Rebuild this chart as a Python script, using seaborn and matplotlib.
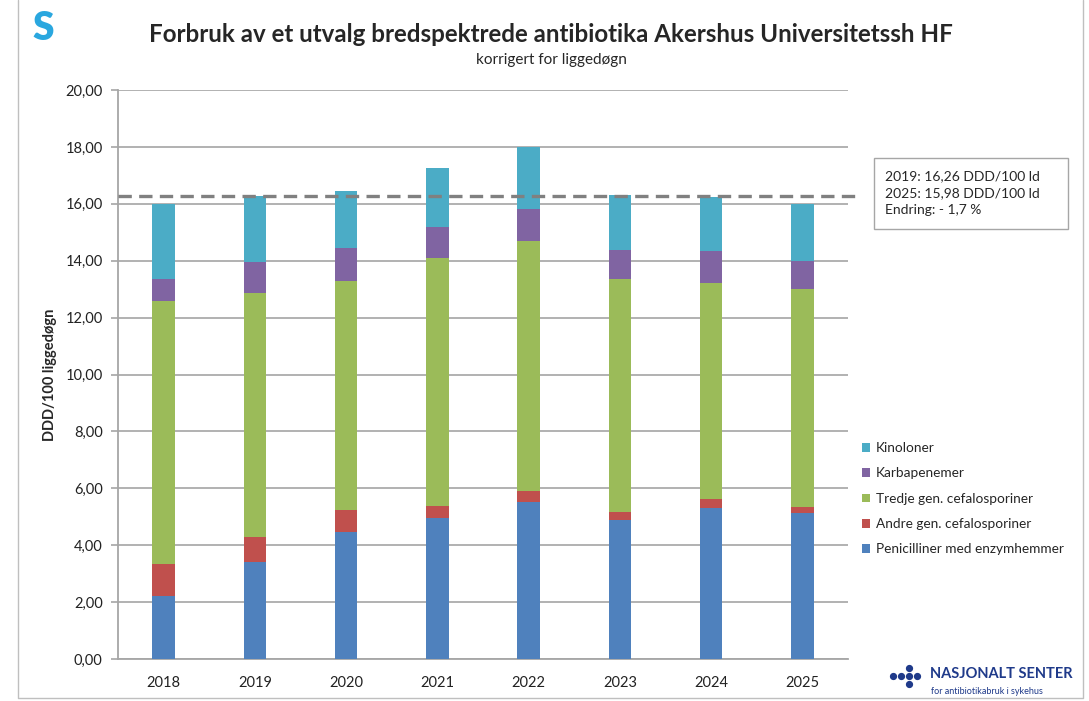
import matplotlib
matplotlib.use("Agg")
import matplotlib.pyplot as plt
from matplotlib.patches import Rectangle, Patch
from matplotlib.ticker import FuncFormatter
import numpy as np
import pandas as pd
import seaborn as sns

# data (DDD/100 liggedøgn)
years = ["2018", "2019", "2020", "2021", "2022", "2023", "2024", "2025"]
penicilliner = [2.22, 3.42, 4.47, 4.95, 5.53, 4.89, 5.30, 5.12]
andre_gen = [1.11, 0.88, 0.77, 0.44, 0.39, 0.27, 0.33, 0.21]
tredje_gen = [9.24, 8.56, 8.04, 8.72, 8.79, 8.19, 7.59, 7.66]
karbapenemer = [0.78, 1.11, 1.15, 1.06, 1.11, 1.02, 1.12, 1.00]
kinoloner = [2.65, 2.29, 2.02, 2.09, 2.16, 1.94, 1.89, 1.99]
ref_2019 = 16.26

series_names = ["Penicilliner med enzymhemmer", "Andre gen. cefalosporiner",
                "Tredje gen. cefalosporiner", "Karbapenemer", "Kinoloner"]
colors = ["#4F81BD", "#C0504D", "#9BBB59", "#8064A2", "#4BACC6"]

df = pd.DataFrame({"År": years,
                   series_names[0]: penicilliner,
                   series_names[1]: andre_gen,
                   series_names[2]: tredje_gen,
                   series_names[3]: karbapenemer,
                   series_names[4]: kinoloner})
cum = df[series_names].cumsum(axis=1)

sns.set_style("white")
plt.rcParams["font.family"] = ["Lato", "DejaVu Sans"]

fig = plt.figure(figsize=(10.89, 7.01), dpi=100)
ax = fig.add_axes([118 / 1089, 1 - 659 / 701, 730 / 1089, 569 / 701])

# stacked bars: draw cumulative totals from the top layer down
for name, col in zip(series_names[::-1], colors[::-1]):
    sns.barplot(x=df["År"], y=cum[name], order=years, color=col, width=0.245,
                saturation=1, ax=ax, zorder=3, linewidth=0)

ax.axhline(ref_2019, xmin=0, xmax=1.012, color="#808080", lw=2.4,
           dashes=(4, 2.2), zorder=4, clip_on=False)

ax.set_ylim(0, 20)
ax.set_yticks(np.arange(0, 21, 2))
ax.yaxis.set_major_formatter(FuncFormatter(lambda v, p: f"{v:.2f}".replace(".", ",")))
ax.grid(axis="y", color="#ABABAB", lw=1.3, zorder=0)
ax.set_axisbelow(True)
for s in ["top", "right"]:
    ax.spines[s].set_visible(False)
for s in ["left", "bottom"]:
    ax.spines[s].set_color("#A6A6A6")
    ax.spines[s].set_linewidth(1.3)
ax.tick_params(axis="y", length=5, width=1.2, color="#A6A6A6", labelsize=10.5,
               labelcolor="#222222", pad=6, left=True)
ax.tick_params(axis="x", length=0, labelsize=10.5, labelcolor="#222222", pad=12)
ax.set_xlabel("")
ax.set_ylabel("DDD/100 liggedøgn", fontsize=10.5, fontweight="bold", labelpad=6)

# legend (reversed order, like the original)
handles = [Patch(facecolor=c, edgecolor="none") for c in colors[::-1]]
fig.legend(handles, series_names[::-1], loc="upper left",
           bbox_to_anchor=(862 / 1089, 1 - 442 / 701), frameon=False,
           fontsize=9.8, handlelength=0.6, handleheight=0.6, handletextpad=0.4,
           labelspacing=0.98, borderpad=0, borderaxespad=0)

# titles
fig.text(0.506, 1 - 35 / 701, "Forbruk av et utvalg bredspektrede antibiotika Akershus Universitetssh HF",
         ha="center", va="center", fontsize=17.4, fontweight="bold")
fig.text(0.506, 1 - 60 / 701, "korrigert for liggedøgn", ha="center", va="center", fontsize=11)

# annotation box
fig.patches.append(Rectangle((874 / 1089, 1 - 229 / 701), 194 / 1089, 71 / 701,
                             transform=fig.transFigure, fill=False,
                             edgecolor="#A6A6A6", lw=1))
fig.text(885 / 1089, 1 - 193 / 701,
         "2019: 16,26 DDD/100 ld\n2025: 15,98 DDD/100 ld\nEndring: - 1,7 %",
         ha="left", va="center", fontsize=10, linespacing=1.5)

# outer chart frame
fig.add_artist(plt.Line2D([18 / 1089, 18 / 1089, 1083 / 1089, 1083 / 1089],
                          [1.0, 1 - 698 / 701, 1 - 698 / 701, 1.0],
                          transform=fig.transFigure, color="#BFBFBF", lw=1))

# logos
fig.text(43 / 1089, 1 - 29 / 701, "S", ha="center", va="center", fontsize=28,
         fontweight="heavy", color="#2AA7DF")
dot_x = [893, 901, 909, 917, 909, 909]
dot_y = [676, 676, 676, 676, 668, 684]
for dx, dy in zip(dot_x, dot_y):
    fig.add_artist(plt.Line2D([dx / 1089], [1 - dy / 701], marker="o", ms=4.2,
                              color="#1F3A8A", transform=fig.transFigure))
fig.text(930 / 1089, 1 - 674 / 701, "NASJONALT SENTER", ha="left", va="center",
         fontsize=10.5, fontweight="bold", color="#1F3A8A")
fig.text(931 / 1089, 1 - 691 / 701, "for antibiotikabruk i sykehus", ha="left",
         va="center", fontsize=6.5, color="#1F3A8A")

fig.savefig("out.png", dpi=100)
